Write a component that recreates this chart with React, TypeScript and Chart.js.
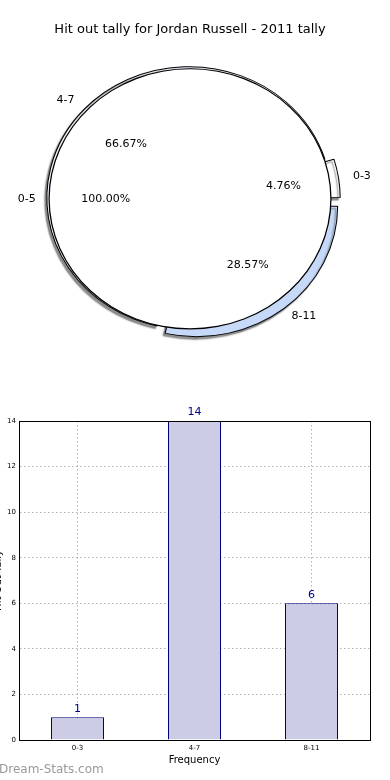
import React, { useEffect, useRef } from 'react';
import { Chart, registerables } from 'chart.js';

Chart.register(...registerables);
Chart.defaults.font.family = "'DejaVu Sans', sans-serif";

// ---------- data ----------
const TITLE = 'Hit out tally for Jordan Russell - 2011 tally';
const categories = ['0-3', '4-7', '8-11'];
const counts = [1, 14, 6];
const totalLabels = ['0-5'];
const totalValues = [21];
const yTicks = [0, 2, 4, 6, 8, 10, 12, 14];
const xAxisTitle = 'Frequency';
const yAxisTitle = 'Hit Out Tally';
const watermark = 'Dream-Stats.com';

// ---------- styles ----------
const sliceColors = ['#ffffff', '#eef2fb', '#c6d9f8'];
const sliceOffsets = [21, 5, 40]; // chart.js arc offsets
const sliceExplodePx = [10, 3, 8]; // visible outward shift, for labels
const PIE_R = 135.5;
const SX = 1.04;
const SY = 0.96;
// clockwise from east (Chart.js) == reverse of counter-clockwise order
const pieOrder = [2, 1, 0];

const piePlugin = {
  id: 'pieLook',
  beforeDatasetsDraw(chart: any) {
    const disk = chart.getDatasetMeta(2).data[0];
    const ctx = chart.ctx;
    ctx.save();
    ctx.translate(disk.x, disk.y);
    ctx.scale(SX, SY);
    ctx.translate(-disk.x, -disk.y);
  },
  afterDatasetsDraw(chart: any) {
    chart.ctx.restore();
  },
  beforeDatasetDraw(chart: any, args: any) {
    if (args.index === 0) {
      const ctx = chart.ctx;
      ctx.save();
      ctx.shadowColor = 'rgba(0,0,0,0.45)';
      ctx.shadowOffsetX = -2;
      ctx.shadowOffsetY = 2.5;
      ctx.shadowBlur = 1.5;
    }
  },
  afterDatasetDraw(chart: any, args: any) {
    if (args.index === 0) chart.ctx.restore();
  },
  afterDraw(chart: any) {
    const ctx = chart.ctx;
    const disk = chart.getDatasetMeta(2).data[0];
    const R = disk.outerRadius;
    const cx = disk.x;
    const cy = disk.y;
    ctx.save();
    ctx.font = "11px 'DejaVu Sans'";
    ctx.fillStyle = '#000';
    ctx.textBaseline = 'middle';
    const put = (arc: any, label: string, pct: string, ext: number) => {
      const mid = (arc.startAngle + arc.endAngle) / 2;
      const ux = Math.cos(mid);
      const uy = Math.sin(mid);
      const lr = 1.1 * R + ext;
      ctx.textAlign = ux > 0 ? 'left' : 'right';
      ctx.fillText(label, cx + ux * lr * SX, cy + uy * lr * SY);
      const pr = 0.6 * R + ext;
      ctx.textAlign = 'center';
      ctx.fillText(pct, cx + ux * pr * SX, cy + uy * pr * SY);
    };
    const total0 = counts.reduce((a, b) => a + b, 0);
    chart.getDatasetMeta(0).data.forEach((arc: any, j: number) => {
      const i = pieOrder[j];
      put(arc, categories[i], ((counts[i] / total0) * 100).toFixed(2) + '%', sliceExplodePx[i]);
    });
    const total1 = totalValues.reduce((a, b) => a + b, 0);
    chart.getDatasetMeta(2).data.forEach((arc: any, j: number) => {
      put(arc, totalLabels[j], ((totalValues[j] / total1) * 100).toFixed(2) + '%', 0);
    });
    ctx.restore();
  },
};

const barValuePlugin = {
  id: 'barValues',
  afterDatasetsDraw(chart: any) {
    const ctx = chart.ctx;
    const meta = chart.getDatasetMeta(0);
    ctx.save();
    ctx.font = "11px 'DejaVu Sans'";
    ctx.fillStyle = '#00008b';
    ctx.textAlign = 'center';
    ctx.textBaseline = 'bottom';
    meta.data.forEach((bar: any, i: number) => {
      ctx.fillText(String(counts[i]), bar.x, bar.y - 3);
    });
    ctx.restore();
  },
};

export default function App() {
  const pieRef = useRef<HTMLCanvasElement>(null);
  const barRef = useRef<HTMLCanvasElement>(null);

  useEffect(() => {
    const pie = new Chart(pieRef.current as HTMLCanvasElement, {
      type: 'pie',
      data: {
        labels: pieOrder.map((i) => categories[i]),
        datasets: [
          {
            // exploded slices (bottom layer)
            data: pieOrder.map((i) => counts[i]),
            backgroundColor: pieOrder.map((i) => sliceColors[i]),
            offset: pieOrder.map((i) => sliceOffsets[i]),
            borderColor: '#000',
            borderWidth: 1,
            order: 3,
            radius: PIE_R,
            weight: 1,
          } as any,
          {
            // outline of the full pie
            data: totalValues,
            backgroundColor: '#000',
            borderWidth: 0,
            order: 2,
            radius: (PIE_R + 0.6) * 1.5,
            weight: 1,
          } as any,
          {
            // full pie (top layer)
            data: totalValues,
            backgroundColor: '#ffffff',
            borderWidth: 0,
            order: 1,
            radius: (PIE_R - 0.6) * 3,
            weight: 1,
          } as any,
        ],
      },
      options: {
        animation: false,
        responsive: false,
        rotation: 90,
        layout: { padding: { left: 0, right: 10, top: 0, bottom: 0 } },
        events: [],
        plugins: {
          legend: { display: false },
          tooltip: { enabled: false },
          title: {
            display: true,
            text: TITLE,
            color: '#000',
            font: { size: 13, weight: 'normal' },
            padding: { top: 22, bottom: 0 },
          },
        },
      } as any,
      plugins: [piePlugin],
    });

    const bar = new Chart(barRef.current as HTMLCanvasElement, {
      type: 'bar',
      data: {
        labels: categories,
        datasets: [
          {
            data: counts,
            backgroundColor: '#ccccE4',
            borderColor: '#000080',
            borderWidth: 1,
            barPercentage: 0.453,
            categoryPercentage: 1,
          },
        ],
      },
      options: {
        animation: false,
        responsive: false,
        events: [],
        layout: { padding: { top: 21, right: 20, left: 0, bottom: 0 } },
        plugins: {
          legend: { display: false },
          tooltip: { enabled: false },
        },
        scales: {
          x: {
            grid: { offset: false, color: '#b0b0b0', drawTicks: false },
            border: { display: true, color: '#000', dash: [1.5, 2.5], z: 1 },
            ticks: { font: { size: 7 }, color: '#000', padding: 4 },
            title: {
              display: true,
              text: xAxisTitle,
              color: '#000',
              font: { size: 10 },
              padding: { top: 2, bottom: 14 },
            },
            afterFit: (s: any) => {
              s.height = 40;
            },
          },
          y: {
            min: 0,
            max: 14,
            afterBuildTicks: (s: any) => {
              s.ticks = yTicks.map((v) => ({ value: v }));
            },
            grid: { color: '#b0b0b0', drawTicks: false },
            border: { display: true, color: '#000', dash: [1.5, 2.5], z: 1 },
            ticks: { font: { size: 7 }, color: '#000', padding: 3 },
            title: {
              display: true,
              text: yAxisTitle,
              color: '#000',
              font: { size: 10 },
              padding: { top: 4, bottom: 0 },
            },
            afterFit: (s: any) => {
              s.width = 31;
            },
          },
          x2: {
            type: 'category',
            position: 'top',
            grid: { display: false, drawTicks: false },
            ticks: { display: false },
            border: { display: true, color: '#000', z: 1 },
            afterFit: (s: any) => {
              s.height = 0;
            },
          },
          y2: {
            type: 'linear',
            position: 'right',
            grid: { display: false, drawTicks: false },
            ticks: { display: false },
            border: { display: true, color: '#000', z: 1 },
            afterFit: (s: any) => {
              s.width = 0;
            },
          },
        },
      } as any,
      plugins: [barValuePlugin],
    });

    return () => {
      pie.destroy();
      bar.destroy();
    };
  }, []);

  return (
    <div style={{ position: 'absolute', left: 0, top: 0, width: 390, height: 780, overflow: 'hidden', background: '#fff' }}>
      <canvas
        ref={pieRef}
        width={390}
        height={360}
        style={{ position: 'absolute', left: 0, top: 0, width: 390, height: 360 }}
      />
      <canvas
        ref={barRef}
        width={402}
        height={380}
        style={{ position: 'absolute', left: -12, top: 400, width: 402, height: 380 }}
      />
      <div
        style={{
          position: 'absolute',
          left: -1,
          top: 762,
          fontFamily: "'DejaVu Sans', sans-serif",
          fontSize: 12,
          color: '#999',
          lineHeight: '14px',
          whiteSpace: 'nowrap',
        }}
      >
        {watermark}
      </div>
    </div>
  );
}
